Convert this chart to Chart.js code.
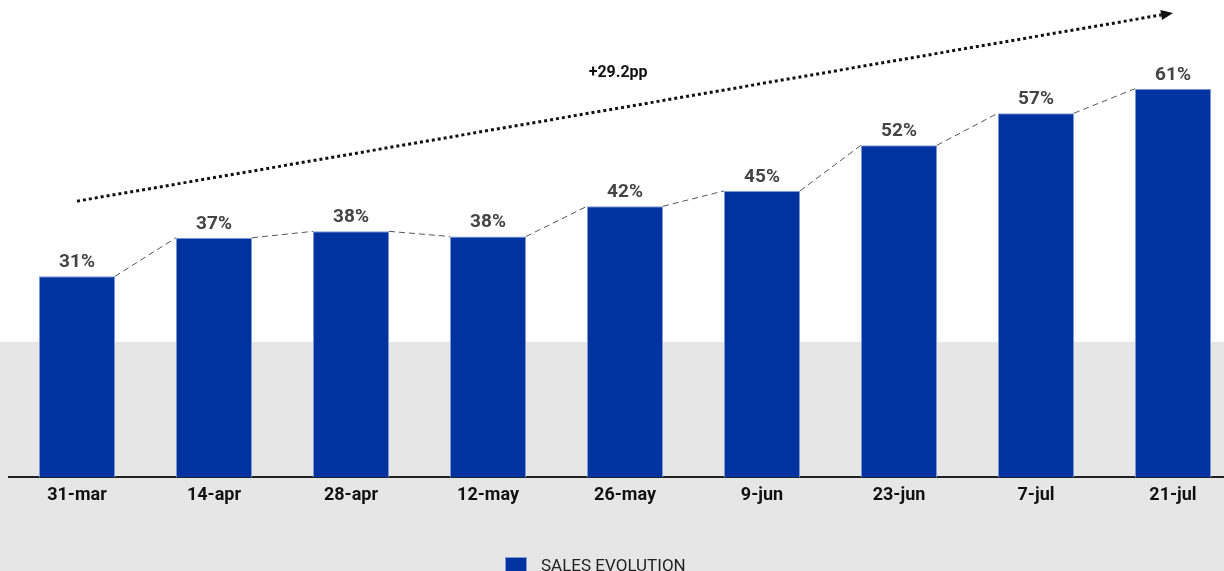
<!DOCTYPE html>
<html>
<head>
<meta charset="utf-8">
<script src="https://cdn.jsdelivr.net/npm/chart.js@4.4.0/dist/chart.umd.min.js"></script>
<style>
  html, body { margin: 0; padding: 0; overflow: hidden; background: #fff; }
  #wrap {
    position: relative; width: 1250px; height: 582px;
    background: linear-gradient(to bottom, #ffffff 0, #ffffff 342px, #e6e6e6 342px, #e6e6e6 100%);
  }
</style>
</head>
<body>
<div id="wrap"><canvas id="grafico"></canvas></div>
<script>
// datos del gráfico
const fechas = ['31-mar', '14-apr', '28-apr', '12-may', '26-may', '9-jun', '23-jun', '7-jul', '21-jul'];
const ventas = [31.3, 37.3, 38.3, 37.5, 42.2, 44.6, 51.7, 56.7, 60.5];
const nombreSerie = 'SALES EVOLUTION';
// flecha de tendencia: desde categoría 0 hasta la 8 (valores en %)
const flechaInicio = [0, 43];
const flechaFin = [8, 72.3];
const textoFlecha = '+29.2pp';
const posTexto = [3.95, 63];

const AZUL = '#0033a0';

// etiquetas de valor + línea discontinua entre barras + flecha punteada + leyenda
const extras = {
  id: 'extras',
  afterDatasetsDraw(chart) {
    const ctx = chart.ctx;
    const barras = chart.getDatasetMeta(0).data;
    const x = chart.scales.x, y = chart.scales.y;

    // línea discontinua
    ctx.save();
    ctx.strokeStyle = '#555';
    ctx.lineWidth = 1;
    ctx.setLineDash([6, 4]);
    ctx.beginPath();
    for (let i = 0; i < barras.length - 1; i++) {
      const a = barras[i], b = barras[i + 1];
      ctx.moveTo(a.x + a.width / 2, a.y);
      ctx.lineTo(b.x - b.width / 2, b.y);
    }
    ctx.stroke();
    ctx.restore();

    // etiquetas
    ctx.save();
    ctx.fillStyle = '#444';
    ctx.font = 'bold 19px Roboto';
    ctx.textAlign = 'center';
    ctx.textBaseline = 'alphabetic';
    barras.forEach((b, i) => {
      ctx.fillText(Math.round(ventas[i]) + '%', b.x, b.y - 9);
    });
    ctx.restore();

    // flecha punteada
    const x0 = x.getPixelForValue(flechaInicio[0]), y0 = y.getPixelForValue(flechaInicio[1]);
    const x1 = x.getPixelForValue(flechaFin[0]), y1 = y.getPixelForValue(flechaFin[1]);
    const ang = Math.atan2(y1 - y0, x1 - x0);
    const largo = 12;
    ctx.save();
    ctx.strokeStyle = '#111';
    ctx.lineWidth = 3;
    ctx.setLineDash([3, 3]);
    ctx.beginPath();
    ctx.moveTo(x0, y0);
    ctx.lineTo(x1 - largo * Math.cos(ang), y1 - largo * Math.sin(ang));
    ctx.stroke();
    ctx.setLineDash([]);
    ctx.fillStyle = '#111';
    ctx.beginPath();
    ctx.moveTo(x1, y1);
    ctx.lineTo(x1 - largo * Math.cos(ang) + 5 * Math.sin(ang), y1 - largo * Math.sin(ang) - 5 * Math.cos(ang));
    ctx.lineTo(x1 - largo * Math.cos(ang) - 5 * Math.sin(ang), y1 - largo * Math.sin(ang) + 5 * Math.cos(ang));
    ctx.closePath();
    ctx.fill();

    ctx.font = 'bold 16px Roboto';
    ctx.textAlign = 'center';
    ctx.textBaseline = 'middle';
    ctx.fillText(textoFlecha, x.getPixelForValue(posTexto[0]), y.getPixelForValue(posTexto[1]));
    ctx.restore();

    // leyenda (abajo, algo desplazada a la izquierda como en el original)
    const ds = chart.data.datasets[0];
    ctx.save();
    ctx.fillStyle = ds.backgroundColor;
    ctx.fillRect(505, 557, 22, 22);
    ctx.strokeStyle = '#7f9bd6';
    ctx.lineWidth = 1;
    ctx.strokeRect(505.5, 557.5, 21, 21);
    ctx.fillStyle = '#222';
    ctx.font = '17px Roboto';
    ctx.textAlign = 'left';
    ctx.textBaseline = 'alphabetic';
    ctx.fillText(ds.label, 541, 571);
    ctx.restore();
  }
};

new Chart(document.getElementById('grafico'), {
  type: 'bar',
  data: {
    labels: fechas,
    datasets: [{
      label: nombreSerie,
      data: ventas,
      backgroundColor: AZUL,
      borderColor: '#7f9bd6',
      borderWidth: { left: 1, right: 1, top: 1, bottom: 0 },
      barPercentage: 0.555,
      categoryPercentage: 1
    }]
  },
  options: {
    responsive: true,
    maintainAspectRatio: false,
    animation: false,
    layout: { padding: { left: 8.5, right: 8.5, top: 2, bottom: 39 } },
    scales: {
      y: { display: false, min: 0, max: 74 },
      x: {
        grid: { display: false, drawTicks: false },
        border: { display: true, color: '#222', width: 2 },
        ticks: { color: '#111', padding: 7, font: { family: 'Roboto', weight: 'bold', size: 18 } },
        afterFit(escala) { escala.height += 30; }
      }
    },
    plugins: {
      tooltip: { enabled: false },
      legend: { display: false }
    }
  },
  plugins: [extras]
});
</script>
</body>
</html>
